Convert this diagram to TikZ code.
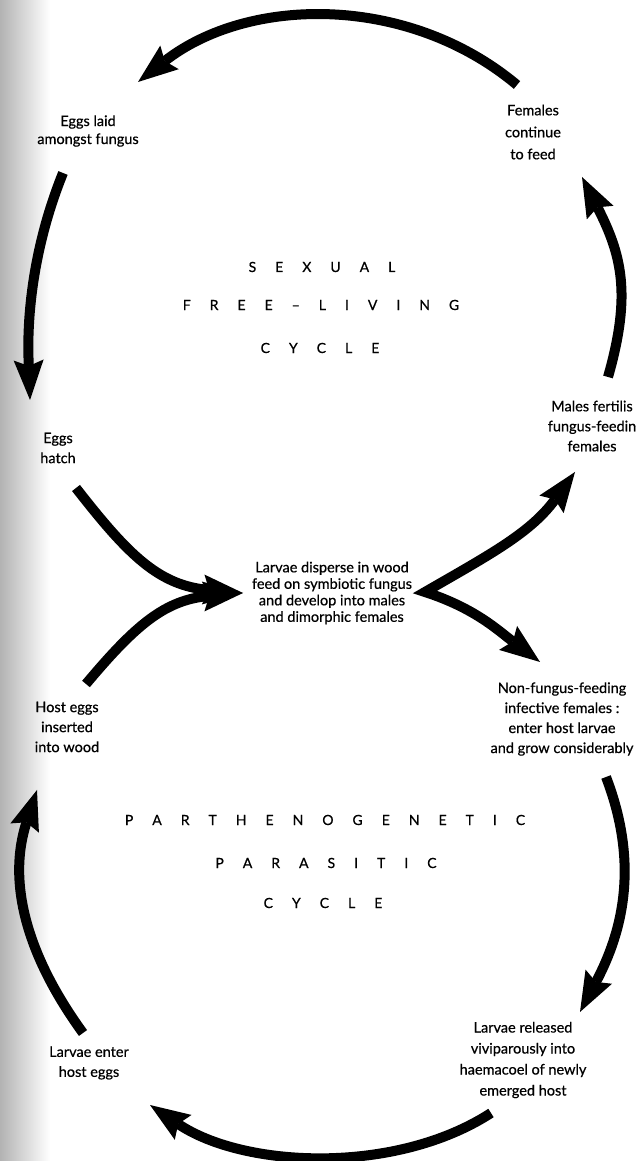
\documentclass[tikz,border=0pt]{standalone}
\usepackage{fontspec}
\setmainfont{Lato}
\newfontfamily\printfont[FakeBold=0.6]{Lato}
\usetikzlibrary{arrows.meta}
\tikzset{>={Stealth[length=40pt,width=30pt,inset=6pt,line width=0pt]}}
\tikzset{
  lbl/.style={align=center, font=\printfont\fontsize{14.5}{20}\selectfont},
  title/.style={font={\printfont\fontsize{14}{16}\selectfont\spaceskip=19pt\relax}},
  cyc/.style={line width=10pt},
}

\begin{document}
\begin{tikzpicture}[x=1pt, y=1pt]
    \useasboundingbox (0,0) rectangle (636,1161);
    % grey edge of the scanned page
    \shade[left color=black!30, right color=white] (0,0) rectangle (50,1161);

    % sexual free-living cycle
    \node[lbl, font=\printfont\fontsize{14.5}{18}\selectfont] at (88,1030) (laid) {Eggs laid\\amongst fungus};
    \node[lbl, font=\printfont\fontsize{14.5}{22}\selectfont] at (533,1029) (fem) {Females\\continue\\to feed};
    \node[lbl] at (58,713) (hatch) {Eggs\\hatch};
    \node[lbl] at (592,735) (males) {Males fertilis\\fungus-feedin\\females};
    \node[lbl, font=\printfont\fontsize{14.5}{16.5}\selectfont] at (332,568) (disp)
        {Larvae disperse in wood\\feed on symbiotic fungus\\and develop into males\\and dimorphic females};

    \node[title] at (322,894) (sexual) {S E X U A L};
    \node[title] at (321,856) (free) {F R E E – L I V I N G};
    \node[title] at (320,813) (cycA) {C Y C L E};

    % parthenogenetic parasitic cycle
    \node[lbl] at (562,442) (non) {Non-fungus-feeding\\infective females :\\enter host larvae\\and grow considerably};
    \node[lbl] at (67,434) (host) {Host eggs\\inserted\\into wood};
    \node[lbl, font=\printfont\fontsize{14.5}{21}\selectfont] at (523,101) (rel)
        {Larvae released\\viviparously into\\haemacoel of newly\\emerged host};
    \node[lbl] at (89,98) (enter) {Larvae enter\\host eggs};

    \node[title] at (325,341) (parth) {P A R T H E N O G E N E T I C};
    \node[title] at (326,298) (para) {P A R A S I T I C};
    \node[title] at (323,258) (cycB) {C Y C L E};

    % arrow ends
    \coordinate (femOut) at (517,1076);  \coordinate (laidIn) at (138,1079);
    \coordinate (laidOut) at (63,988);   \coordinate (hatchIn) at (30,761);
    \coordinate (hatchOut) at (76,673);  \coordinate (dispIn) at (243,568);
    \coordinate (hostOut) at (86,477);   \coordinate (dispOut) at (425,569);
    \coordinate (malesIn) at (575,689);  \coordinate (nonIn) at (540,499);
    \coordinate (malesOut) at (608,784); \coordinate (femIn) at (582,984);
    \coordinate (nonOut) at (606,384);   \coordinate (relIn) at (580,149);
    \coordinate (relOut) at (491,48);    \coordinate (enterIn) at (150,56);
    \coordinate (enterOut) at (83,128);  \coordinate (hostIn) at (37,371);

    \draw[cyc,->] (femOut) to[out=140,in=38,looseness=0.95] (laidIn);
    \draw[cyc,->] (laidOut) to[out=248,in=92,out looseness=1.2,in looseness=0.5] (hatchIn);
    \draw[cyc,->] (hatchOut) to[out=-52,in=175,looseness=1.1] (dispIn);
    \draw[cyc,->] (hostOut) to[out=50,in=185,looseness=1.1] (dispIn);
    \draw[cyc,<->] (malesIn) to[out=234,in=30] (dispOut) to[out=-18,in=143] (nonIn);
    \draw[cyc,->] (malesOut) to[out=74,in=-63,looseness=1.1] (femIn);
    \draw[cyc,->] (nonOut) to[out=-69,in=62] (relIn);
    \draw[cyc,->] (relOut) to[out=213,in=-34,looseness=0.85] (enterIn);
    \draw[cyc,->] (enterOut) to[out=126,in=252] (hostIn);
\end{tikzpicture}
\end{document}
